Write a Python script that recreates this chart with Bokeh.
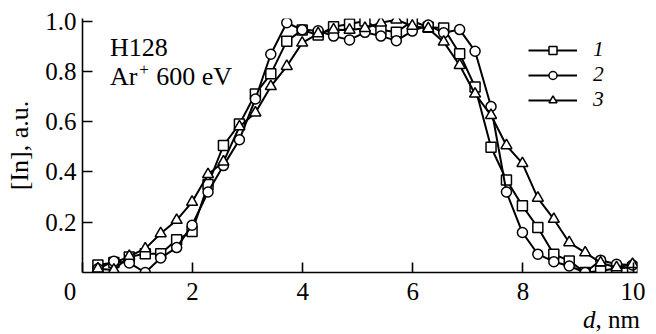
from bokeh.plotting import figure
from bokeh.models import FixedTicker, Range1d, Label, Legend, LegendItem, PrintfTickFormatter, Div
from bokeh.layouts import column
from bokeh.embed import file_html
from bokeh.resources import INLINE

# depth, nm
d_nm = [0.28, 0.57, 0.85, 1.14, 1.42, 1.71, 1.99, 2.28, 2.56, 2.85,
        3.14, 3.42, 3.71, 3.99, 4.28, 4.56, 4.85, 5.13, 5.42, 5.70,
        5.99, 6.28, 6.56, 6.85, 7.13, 7.42, 7.70, 7.99, 8.27, 8.56,
        8.84, 9.13, 9.41, 9.70, 9.99]

# [In], a.u.
series1 = [0.030, 0.040, 0.062, 0.075, 0.075, 0.130, 0.163, 0.350, 0.505, 0.590,
           0.710, 0.790, 0.920, 0.964, 0.944, 0.977, 0.988, 1.000, 0.965, 0.955,
           1.000, 0.975, 0.972, 0.870, 0.738, 0.498, 0.368, 0.265, 0.179, 0.073,
           0.046, 0.000, 0.006, 0.017, 0.020]
series2 = [0.015, 0.045, 0.038, 0.000, 0.058, 0.099, 0.188, 0.320, 0.425, 0.528,
           0.690, 0.868, 0.993, 0.965, 0.961, 0.940, 0.925, 0.955, 0.940, 0.922,
           0.960, 0.984, 0.953, 0.966, 0.880, 0.660, 0.320, 0.159, 0.073, 0.043,
           0.026, 0.000, 0.049, 0.033, 0.030]
series3 = [0.015, 0.010, 0.065, 0.095, 0.155, 0.208, 0.280, 0.390, 0.440, 0.580,
           0.635, 0.740, 0.820, 0.913, 0.950, 0.965, 0.964, 0.971, 0.993, 1.005,
           0.980, 0.970, 0.917, 0.824, 0.710, 0.625, 0.505, 0.434, 0.296, 0.212,
           0.119, 0.079, 0.039, 0.020, 0.033]

series_labels = ["1", "2", "3"]
x_ticks = [0, 2, 4, 6, 8, 10]
y_ticks = [0.2, 0.4, 0.6, 0.8, 1.0]

FONT = "'Liberation Serif', 'Times New Roman', serif"

p = figure(width=656, height=308, output_backend="svg", toolbar_location=None,
           x_range=Range1d(0, 10.08), y_range=Range1d(0, 1.01),
           min_border_left=82, min_border_right=19, min_border_top=18,
           min_border_bottom=36)
p.outline_line_color = None
p.xgrid.visible = False
p.ygrid.visible = False
p.background_fill_color = "white"

for ax in (p.xaxis[0], p.yaxis[0]):
    ax.axis_line_width = 1.6
    ax.axis_line_color = "black"
    ax.major_tick_line_width = 1.6
    ax.major_tick_line_color = "black"
    ax.major_tick_in = 10
    ax.major_tick_out = 0
    ax.minor_tick_line_color = None
    ax.major_label_text_font = FONT
    ax.major_label_text_font_size = "25px"
    ax.major_label_text_color = "black"
    ax.axis_label_text_font = FONT
    ax.axis_label_text_font_style = "normal"
    ax.axis_label_text_font_size = "26px"
    ax.axis_label_text_color = "black"

p.xaxis.ticker = FixedTicker(ticks=x_ticks)
p.xaxis.major_label_overrides = {0: "0\u00a0\u00a0\u00a0\u00a0"}
p.yaxis.ticker = FixedTicker(ticks=y_ticks)
p.yaxis.formatter = PrintfTickFormatter(format="%.1f")
p.xaxis.major_label_standoff = 5
p.yaxis.major_label_standoff = 6
p.yaxis.axis_label = "[In], a.u."
p.yaxis.axis_label_standoff = 8

markers = ["square", "circle", "triangle"]
sizes = [10, 10, 11]
items = []
for ys, mk, sz, lab in zip([series1, series2, series3], markers, sizes, series_labels):
    ln = p.line(d_nm, ys, line_color="black", line_width=2)
    sc = p.scatter(d_nm, ys, marker=mk, size=sz, fill_color="white",
                   line_color="black", line_width=1.5)
    items.append(LegendItem(label=lab, renderers=[ln, sc]))

legend = Legend(items=items, location=(446, 160), orientation="vertical",
                border_line_color=None, background_fill_alpha=0,
                padding=0, margin=0, spacing=0, glyph_width=49, glyph_height=20,
                label_height=20, label_standoff=16,
                label_text_font=FONT, label_text_font_style="italic",
                label_text_font_size="21.5px", label_text_color="black")
p.add_layout(legend, "center")

common = dict(text_font=FONT, text_font_size="26px", text_color="black",
              text_baseline="middle")
p.add_layout(Label(x=0.50, y=0.896, text="H128", **common))
p.add_layout(Label(x=0.50, y=0.778, text="Ar", **common))
p.add_layout(Label(x=1.03, y=0.806, text="+", text_font=FONT, text_font_size="17px",
                   text_color="black", text_baseline="middle"))
p.add_layout(Label(x=1.34, y=0.778, text="600 eV", **common))

div = Div(text=('<div style="width:640px;text-align:right;'
                "font-family:'Liberation Serif','Times New Roman',serif;"
                'font-size:25px;line-height:24px;color:black;white-space:nowrap;">'
                '<i>d</i>, nm</div>'),
          width=656, height=26, margin=0)

layout = column(p, div, spacing=0)
open("out.html", "w").write(file_html(layout, INLINE))
